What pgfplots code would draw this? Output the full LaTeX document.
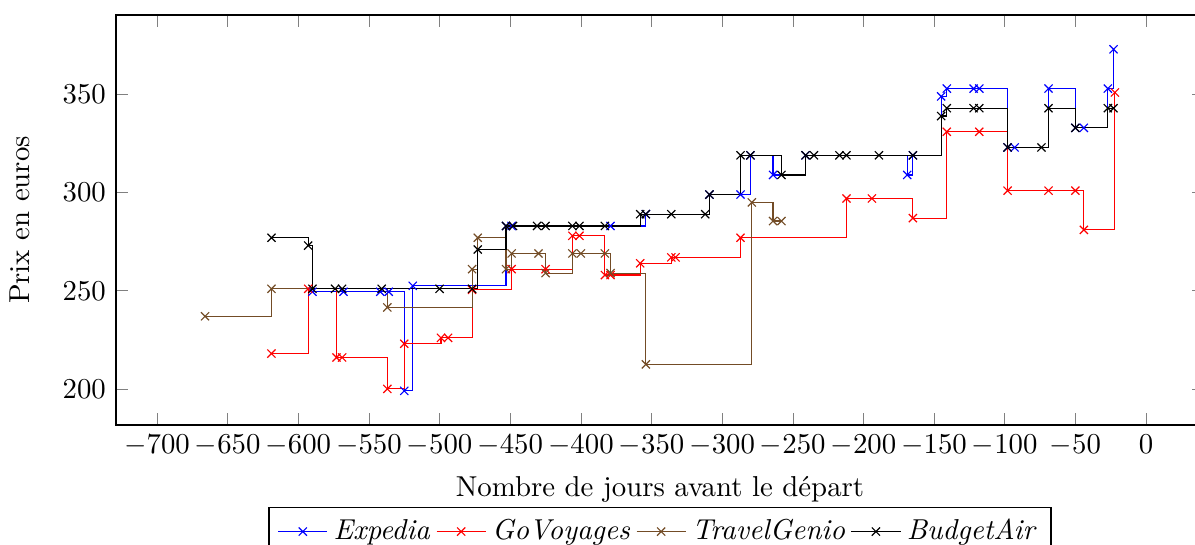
\documentclass[border=0pt]{standalone}
\usepackage{pgfplots}
\pgfplotsset{compat=1.18}
\begin{document}
\begin{tikzpicture}
\useasboundingbox (-40.3pt,-41.6pt) rectangle (374.7pt,147.6pt);
\begin{axis}[
  at={(0,0)}, anchor=south west,
  scale only axis, width=377.8pt, height=142.4pt,
  xmin=-729, xmax=41, ymin=181.6, ymax=390.5,
  xtick={-700,-650,...,0},
  ytick={200,250,300,350},
  xlabel={Nombre de jours avant le départ},
  ylabel={Prix en euros},
  ylabel shift=4.5pt,
  legend style={at={(0.5,-0.2)}, anchor=north, legend columns=-1},
]
\addplot[blue, const plot, mark=x] coordinates {
(-590,249.5) (-568,249.5) (-542,249.5) (-536,249.5) (-525,199) (-519,252.5)
(-453,283) (-449,283) (-379,283) (-354,289) (-309,299) (-287,299) (-280,319)
(-264,309) (-241,319) (-169,309) (-165,319) (-145,349) (-141,353) (-122,353)
(-118,353) (-98,323) (-93,323) (-69,353) (-50,333) (-44,333) (-27,353) (-23,373)
};
\addlegendentry{\textit{Expedia}}
\addplot[red, const plot, mark=x] coordinates {
(-619,218) (-593,251) (-573,216) (-569,216) (-537,200) (-525,223) (-499,226)
(-494,226) (-477,250.5) (-449,261) (-425,261) (-406,278) (-401,278) (-383,258)
(-379,258) (-358,264) (-336,267) (-333,267) (-287,277) (-212,297) (-194,297)
(-165,287) (-141,331) (-118,331) (-98,301) (-69,301) (-50,301) (-44,281) (-22,351)
};
\addlegendentry{\textit{GoVoyages}}
\addplot[brown!60!black, const plot, mark=x] coordinates {
(-666,237) (-619,251) (-537,241.5) (-477,261) (-473,277) (-453,261) (-449,269)
(-430,269) (-425,259) (-406,269) (-400,269) (-383,269) (-379,259) (-354,212.5)
(-279,295) (-264,285.5) (-258,285.5)
};
\addlegendentry{\textit{TravelGenio}}
\addplot[black, const plot, mark=x] coordinates {
(-619,277) (-593,273) (-590,251) (-574,251) (-569,251) (-541,251) (-500,251)
(-477,251) (-473,271) (-453,283) (-448,283) (-431,283) (-425,283) (-406,283)
(-401,283) (-383,283) (-358,289) (-354,289) (-336,289) (-312,289) (-309,299)
(-287,319) (-280,319) (-258,309) (-241,319) (-235,319) (-217,319) (-212,319)
(-189,319) (-165,319) (-145,339) (-141,343) (-122,343) (-118,343) (-98,323)
(-74,323) (-69,343) (-50,333) (-27,343) (-23,343)
};
\addlegendentry{\textit{BudgetAir}}
\end{axis}
\end{tikzpicture}
\end{document}
